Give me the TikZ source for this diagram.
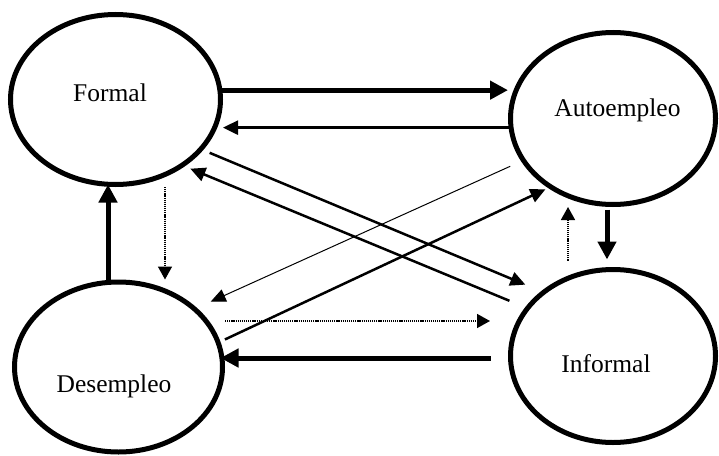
\documentclass[tikz,border=0pt]{standalone}
\usepackage{fontspec}
\setmainfont{Liberation Serif}
\usetikzlibrary{shapes.geometric,arrows.meta}
\begin{document}
\begin{tikzpicture}[x=1pt,y=-1pt,
  state/.style={draw, ellipse, line width=5pt, inner sep=0pt},
  lab/.style={inner sep=0pt, text depth=0pt, font=\fontsize{25.5}{30}\selectfont},
  heavyarr/.style={line width=5pt, -{Triangle[length=18pt,width=18pt]}},
  medarr/.style={line width=2.5pt, -{Triangle[length=15pt,width=14pt]}},
  thinarr/.style={line width=1pt, -{Triangle[length=15pt,width=13pt]}},
  dotarr/.style={line width=1.6pt, dash pattern=on 1.2pt off 0.9pt, -{Triangle[length=13pt,width=14pt]}}]
\useasboundingbox (0,0) rectangle (719,455);
\node[state, minimum width=210pt, minimum height=170pt,
  label={[lab, xshift=-5.5pt, yshift=7.1pt]center:Formal}] (formal) at (115.5,99.5) {};
\node[state, minimum width=205pt, minimum height=172pt,
  label={[lab, xshift=4.5pt, yshift=11pt]center:Autoempleo}] (auto) at (613,118.5) {};
\node[state, minimum width=208pt, minimum height=170pt,
  label={[lab, xshift=-4.5pt, yshift=-17pt]center:Desempleo}] (desem) at (118.5,367) {};
\node[state, minimum width=205pt, minimum height=173pt,
  label={[lab, xshift=-7pt, yshift=-8pt]center:Informal}] (inform) at (613,356) {};
% horizontal
\draw[heavyarr] (formal.5) -- (formal.5 -| auto.west);
\draw[medarr] (auto.185) -- (auto.185 -| formal.east);
\draw[dotarr, shorten >=18pt] ([yshift=46pt]desem.east) -- ([yshift=35pt]inform.west);
\draw[heavyarr, shorten <=17.5pt, shorten >=-4.5pt] ([yshift=-2pt]inform.west) -- ([yshift=-2pt]inform.west -| desem.east);
% vertical
\draw[dotarr] ([xshift=49.5pt]formal.south) -- ([xshift=46.5pt]desem.north);
\draw[heavyarr, shorten >=-2.5pt] ([xshift=-10.5pt]desem.north) -- ([xshift=-7.5pt]formal.south);
\draw[heavyarr, shorten <=2.5pt, shorten >=7.5pt] ([xshift=-6pt]auto.south) -- ([xshift=-6pt]inform.north);
\draw[dotarr, shorten <=6.5pt] ([xshift=-45pt]inform.north) -- ([xshift=-45pt]auto.south);
% diagonal
\draw[medarr, shorten <=7pt, shorten >=17pt] (formal.-30) -- (inform.138);
\draw[medarr, shorten <=17pt, shorten >=6pt] (inform.151) -- (formal.-44);
\draw[thinarr, shorten <=12pt, shorten >=15pt] (auto.205) -- (desem.37);
\draw[medarr, shorten <=5pt, shorten >=3pt] (desem.14.5) -- (auto.227);
\end{tikzpicture}
\end{document}
